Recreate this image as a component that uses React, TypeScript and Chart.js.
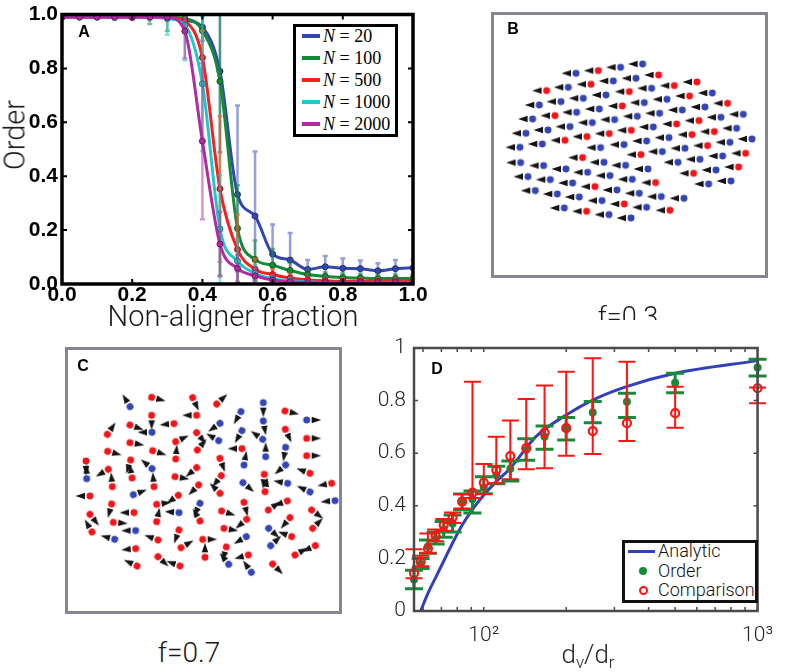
import React, { useEffect, useRef } from 'react';
import { Chart, registerables } from 'chart.js';
Chart.register(...registerables);

// ================= Panel A : order vs non-aligner fraction =================
const fracA = [0, 0.05, 0.1, 0.15, 0.2, 0.25, 0.3, 0.35, 0.4, 0.45, 0.5, 0.55, 0.6, 0.65, 0.7, 0.75, 0.8, 0.85, 0.9, 0.95, 1.0];
const orderN20 = [0.995, 0.995, 0.995, 0.995, 0.995, 0.995, 0.99, 0.978, 0.953, 0.789, 0.332, 0.252, 0.111, 0.089, 0.054, 0.064, 0.058, 0.057, 0.049, 0.057, 0.06];
const errN20 = [0.005, 0.005, 0.005, 0.005, 0.005, 0.01, 0.01, 0.02, 0.05, 0.3, 0.33, 0.24, 0.11, 0.1, 0.035, 0.04, 0.037, 0.03, 0.028, 0.032, 0.03];
const orderN100 = [0.995, 0.995, 0.995, 0.995, 0.995, 0.995, 0.99, 0.985, 0.94, 0.752, 0.206, 0.091, 0.07, 0.05, 0.035, 0.028, 0.024, 0.022, 0.02, 0.02, 0.02];
const errN100 = [0.005, 0.005, 0.005, 0.005, 0.005, 0.03, 0.05, 0.02, 0.1, 0.72, 0.16, 0.07, 0.06, 0.03, 0.02, 0.015, 0.015, 0.015, 0.015, 0.015, 0.015];
const orderN500 = [0.995, 0.995, 0.995, 0.995, 0.995, 0.995, 0.99, 0.975, 0.84, 0.353, 0.128, 0.055, 0.035, 0.022, 0.015, 0.012, 0.01, 0.01, 0.01, 0.01, 0.01];
const errN500 = [0.005, 0.005, 0.005, 0.005, 0.005, 0.005, 0.01, 0.03, 0.1, 0.27, 0.13, 0.04, 0.02, 0.015, 0.01, 0.01, 0.01, 0.01, 0.01, 0.01, 0.01];
const orderN1000 = [0.99, 0.99, 0.99, 0.99, 0.99, 0.99, 0.985, 0.96, 0.743, 0.204, 0.085, 0.04, 0.02, 0.012, 0.008, 0.005, 0.005, 0.005, 0.005, 0.005, 0.005];
const errN1000 = [0.005, 0.005, 0.005, 0.01, 0.005, 0.01, 0.06, 0.13, 0.25, 0.2, 0.08, 0.03, 0.01, 0.01, 0.005, 0.005, 0.005, 0.005, 0.005, 0.005, 0.005];
const orderN2000 = [0.99, 0.99, 0.99, 0.99, 0.99, 0.99, 0.99, 0.938, 0.53, 0.148, 0.058, 0.03, 0.015, 0.008, 0.005, 0.005, 0.005, 0.005, 0.005, 0.005, 0.005];
const errN2000 = [0.005, 0.005, 0.005, 0.005, 0.01, 0.005, 0.01, 0.1, 0.29, 0.12, 0.05, 0.03, 0.01, 0.005, 0.005, 0.005, 0.005, 0.005, 0.005, 0.005, 0.005];
const legendA = ['20', '100', '500', '1000', '2000'];
const colorsA = ['#3447ae', '#178a3a', '#fa1e1e', '#20c8c8', '#b02aa0'];
const edgesA = ['#1f2d78', '#0c5424', '#a01010', '#128080', '#6e1666'];
const errColorsA = ['rgba(60,80,190,0.55)', 'rgba(23,138,58,0.55)', 'rgba(250,95,40,0.6)', 'rgba(32,200,200,0.55)', 'rgba(176,42,160,0.5)'];
const ticksA = [0, 0.2, 0.4, 0.6, 0.8, 1.0];

// ================= Panel B : snapshot f = 0.3 (agent positions) =================
const bX = [318, 385, 452, 518, 498, 566, 230, 295, 363, 430, 478, 545, 613, 681, 208, 273, 340, 408, 457, 523, 591, 659, 727, 705, 773, 188, 255, 320, 388, 434, 502, 569, 637, 687, 753, 820, 168, 234, 300, 367, 484, 550, 620, 666, 733, 800, 150, 217, 285, 351, 418, 392, 462, 530, 597, 645, 713, 780, 846, 338, 513, 577, 690, 758, 827, 152, 221, 288, 353, 402, 467, 534, 624, 420, 487, 557, 671, 738, 806, 174, 241, 308, 375, 441, 508, 574, 642, 716, 783, 196, 262, 328, 396, 463, 530, 600, 283, 350, 417, 483];
const bY = [220, 212, 202, 192, 235, 225, 272, 262, 253, 243, 275, 265, 257, 246, 315, 305, 295, 285, 318, 308, 298, 288, 279, 321, 310, 357, 347, 337, 327, 359, 349, 340, 330, 362, 352, 343, 400, 390, 380, 368, 391, 381, 372, 404, 395, 385, 442, 432, 421, 410, 401, 443, 434, 423, 413, 445, 437, 427, 417, 473, 464, 455, 478, 468, 460, 488, 497, 507, 517, 487, 496, 507, 487, 527, 538, 548, 520, 510, 501, 530, 539, 549, 560, 570, 580, 590, 595, 552, 543, 572, 582, 591, 602, 612, 622, 631, 624, 634, 644, 654];
// b = aligner (blue), r = non-aligner (red)
const bKind = 'brbbbrrbrbrbrrbbbbrbbrbbrbrbbbbbbrbbbbbbrbrrrbbbrrrbbbbbrbbrrbbbrbbbbbbbbbbrrbrbbbrbbbbbbbbbbrbrbrbb'.split('');
const bHeading = 180;

// ================= Panel C : snapshot f = 0.7 =================
const cX = [390, 455, 578, 650, 790, 855, 920, 723, 455, 590, 790, 322, 390, 456, 522, 660, 656, 590, 527, 726, 788, 856, 920, 323, 390, 458, 527, 592, 660, 726, 797, 857, 920, 258, 392, 456, 325, 590, 664, 732, 857, 930, 260, 337, 396, 462, 525, 596, 729, 793, 795, 863, 930, 995, 270, 400, 535, 660, 862, 1005, 335, 470, 600, 732, 805, 935, 270, 402, 537, 665, 340, 470, 600, 740, 870, 276, 407, 537, 672, 806, 938, 344, 474, 608, 739, 875, 407, 543, 615, 679, 812, 885, 946, 745, 474, 411, 540, 686, 754, 818];
const cY = [290, 262, 263, 282, 278, 303, 330, 305, 316, 316, 333, 373, 345, 367, 341, 340, 392, 368, 395, 362, 388, 358, 385, 424, 398, 422, 447, 420, 445, 416, 440, 412, 437, 453, 450, 476, 478, 473, 497, 465, 465, 490, 506, 530, 504, 530, 500, 525, 518, 493, 545, 520, 546, 520, 558, 554, 556, 550, 573, 572, 582, 583, 580, 577, 600, 600, 613, 608, 608, 603, 637, 635, 633, 628, 623, 666, 662, 660, 655, 655, 655, 688, 690, 688, 680, 680, 716, 713, 742, 711, 707, 735, 707, 735, 740, 768, 768, 763, 787, 762];
const cHeading = [-121, 15, 65, -43, 90, 13, 0, 120, 90, 180, 80, -55, 20, 180, 175, 145, -150, 50, -25, 120, -145, 65, 0, 15, 10, 18, -85, -50, 70, 180, -90, 100, 0, 90, 108, -140, 150, 140, 128, -80, 140, -160, -90, -95, -100, -95, 10, 135, 40, 95, -80, 190, -155, 170, 180, -20, 145, -135, 160, 175, 105, -8, 115, 75, -35, 37, 52, 180, 185, 18, 5, -78, -120, 140, 130, -120, 180, 110, 10, 42, -45, -165, -160, 0, 150, -160, 175, -30, -90, 105, -43, -30, 155, 165, 43, -155, -160, -128, -125, 45];
const cKind = 'brrrbrbbrrbrrbrbbrrbbrrrrrrrrrbbrrrbrrrbbrbrrrrrbrrbbrrbrrrbrrbrrrrrbrrrrrrrbrrbrbrrbrrrrrbrrrrrrbbr'.split('');

// ================= Panel D : order vs dv/dr =================
const ratioD = [55.6, 58.8, 62.5, 66.7, 71.4, 76.9, 83.3, 90.9, 100, 111.1, 125, 142.9, 166.7, 200, 250, 333.3, 500, 1000];
const orderD = [0.12, 0.18, 0.245, 0.275, 0.31, 0.333, 0.415, 0.425, 0.47, 0.516, 0.541, 0.613, 0.663, 0.698, 0.755, 0.796, 0.868, 0.926];
const orderLoD = [0.085, 0.162, 0.22, 0.255, 0.28, 0.3, 0.385, 0.373, 0.446, 0.484, 0.494, 0.573, 0.615, 0.65, 0.716, 0.736, 0.83, 0.894];
const orderHiD = [0.155, 0.2, 0.27, 0.3, 0.34, 0.365, 0.445, 0.456, 0.51, 0.55, 0.57, 0.655, 0.703, 0.736, 0.797, 0.828, 0.904, 0.957];
const compD = [0.144, 0.188, 0.237, 0.285, 0.327, 0.356, 0.416, 0.45, 0.488, 0.536, 0.589, 0.619, 0.678, 0.695, 0.684, 0.714, 0.752, 0.847];
const compLoD = [0.125, 0.17, 0.22, 0.265, 0.305, 0.335, 0.39, 0.43, 0.445, 0.486, 0.501, 0.539, 0.543, 0.59, 0.597, 0.646, 0.697, 0.79];
const compHiD = [0.235, 0.21, 0.295, 0.31, 0.35, 0.375, 0.445, 0.872, 0.559, 0.663, 0.724, 0.806, 0.857, 0.91, 0.961, 0.948, 0.853, 0.85];
const analyticX = [58.8, 62.5, 66.9, 71.7, 77.9, 83.4, 90.6, 100, 111, 125, 155, 200, 250, 332, 500, 1000];
const analyticY = [0.0, 0.067, 0.13, 0.194, 0.27, 0.327, 0.384, 0.441, 0.492, 0.543, 0.663, 0.745, 0.802, 0.853, 0.904, 0.952];
const logTicksD = [60, 70, 80, 90, 100, 200, 300, 400, 500, 600, 700, 800, 900, 1000];
const linTicksD = [0, 0.2, 0.4, 0.6, 0.8, 1];

const BLUE_D = '#3341b8';
const GREEN_D = '#178a3a';
const RED_D = '#ff1414';
const DOT_BLUE = '#3346b4';
const DOT_RED = '#f2161a';
const LIGHT = "Roboto, 'Liberation Sans', Arial, sans-serif";
const SANS = "'Liberation Sans', Arial, sans-serif";

// ---------- plugins ----------
const errorBars = {
  id: 'errorBars',
  beforeDatasetDraw(chart: any, args: any) {
    const ds = chart.data.datasets[args.index];
    if (!ds.errLow) return;
    const { ctx, chartArea: a } = chart;
    const xs = chart.scales.x;
    const ys = chart.scales.y;
    ctx.save();
    if (ds.errClip) {
      ctx.beginPath();
      ctx.rect(a.left, a.top, a.right - a.left, a.bottom - a.top);
      ctx.clip();
    }
    ctx.strokeStyle = ds.errColor;
    ctx.lineWidth = ds.errWidth;
    ds.data.forEach((p: any, i: number) => {
      const x = xs.getPixelForValue(p.x);
      const y1 = ys.getPixelForValue(ds.errLow[i]);
      const y2 = ys.getPixelForValue(ds.errHigh[i]);
      ctx.beginPath();
      ctx.moveTo(x, y1);
      ctx.lineTo(x, y2);
      ctx.moveTo(x - ds.capHalf, y1);
      ctx.lineTo(x + ds.capHalf, y1);
      ctx.moveTo(x - ds.capHalf, y2);
      ctx.lineTo(x + ds.capHalf, y2);
      ctx.stroke();
    });
    ctx.restore();
  },
};

const frameBox = {
  id: 'frameBox',
  afterDatasetsDraw(chart: any, _args: any, opts: any) {
    if (!opts || !opts.color) return;
    const { ctx, chartArea: a } = chart;
    const inset = opts.inset || 0;
    ctx.save();
    if (opts.tickLen) {
      const L = opts.tickLen;
      ctx.strokeStyle = opts.color;
      ctx.lineWidth = opts.tickWidth;
      const xs = chart.scales.x;
      const ys = chart.scales.y;
      ctx.beginPath();
      xs.ticks.forEach((t: any) => {
        const px = xs.getPixelForValue(t.value);
        ctx.moveTo(px, a.bottom);
        ctx.lineTo(px, a.bottom - L);
        ctx.moveTo(px, a.top);
        ctx.lineTo(px, a.top + L);
      });
      ys.ticks.forEach((t: any) => {
        const py = ys.getPixelForValue(t.value);
        ctx.moveTo(a.left, py);
        ctx.lineTo(a.left + L, py);
        ctx.moveTo(a.right, py);
        ctx.lineTo(a.right - L, py);
      });
      ctx.stroke();
    }
    ctx.strokeStyle = opts.color;
    ctx.lineWidth = opts.width;
    ctx.strokeRect(a.left + inset, a.top + inset, a.right - a.left - 2 * inset, a.bottom - a.top - 2 * inset);
    ctx.restore();
  },
};

function makeGlyph(dot: string) {
  const c = document.createElement('canvas');
  c.width = 30;
  c.height = 12;
  const g = c.getContext('2d') as CanvasRenderingContext2D;
  g.fillStyle = '#141414';
  g.beginPath();
  g.moveTo(20, 2.8);
  g.lineTo(29.5, 6);
  g.lineTo(20, 9.2);
  g.closePath();
  g.fill();
  g.fillStyle = dot;
  g.beginPath();
  g.arc(15, 6, 3.5, 0, Math.PI * 2);
  g.fill();
  return c;
}

function Label({ x, y, size, weight = 300, family = LIGHT, color = '#1a1a1a', rotate = 0, children }: any) {
  return (
    <div
      style={{
        position: 'absolute', left: x, top: y,
        transform: `translate(-50%, -50%) rotate(${rotate}deg)`,
        fontSize: size, fontWeight: weight, fontFamily: family, color,
        lineHeight: 1, whiteSpace: 'nowrap',
      }}
    >
      {children}
    </div>
  );
}

export default function App() {
  const aRef = useRef<HTMLCanvasElement>(null);
  const bRef = useRef<HTMLCanvasElement>(null);
  const cRef = useRef<HTMLCanvasElement>(null);
  const dRef = useRef<HTMLCanvasElement>(null);

  useEffect(() => {
    const charts: Chart[] = [];
    const blueGlyph = makeGlyph(DOT_BLUE);
    const redGlyph = makeGlyph(DOT_RED);

    // ---- A ----
    const seriesA = [orderN20, orderN100, orderN500, orderN1000, orderN2000];
    const errsA = [errN20, errN100, errN500, errN1000, errN2000];
    const dsA = seriesA.map((vals, s) => ({
      label: 'N = ' + legendA[s],
      data: fracA.map((x, i) => ({ x, y: vals[i] })),
      borderColor: colorsA[s],
      backgroundColor: colorsA[s],
      borderWidth: 3,
      pointRadius: 3,
      pointBorderWidth: 1,
      pointBorderColor: edgesA[s],
      pointBackgroundColor: colorsA[s],
      showLine: true,
      cubicInterpolationMode: 'monotone',
      order: 5 - s,
      errLow: vals.map((v, i) => v - errsA[s][i]),
      errHigh: vals.map((v, i) => v + errsA[s][i]),
      errColor: errColorsA[s],
      errWidth: 2.5,
      capHalf: 2.5,
      errClip: true,
    }));
    const tickFontA = { family: SANS, size: 21, weight: 'bold', lineHeight: 1 };
    charts.push(new Chart(aRef.current as HTMLCanvasElement, {
      type: 'scatter',
      data: { datasets: dsA as any },
      plugins: [errorBars, frameBox],
      options: {
        responsive: false, animation: false, events: [],
        layout: { padding: { top: 14, right: 20, left: 0, bottom: 0 }, autoPadding: false },
        plugins: { legend: { display: false }, tooltip: { enabled: false }, frameBox: { color: '#000', width: 3.5, tickLen: 5, tickWidth: 2 } } as any,
        scales: {
          x: {
            type: 'linear', min: 0, max: 1,
            grid: { display: false, drawTicks: false }, border: { display: false },
            afterBuildTicks: (s: any) => { s.ticks = ticksA.map((v) => ({ value: v })); },
            afterFit: (s: any) => { s.height = 26; },
            ticks: { color: '#000', padding: 1, maxRotation: 0, autoSkip: false, font: tickFontA as any, callback: (v: any) => Number(v).toFixed(1) },
          },
          y: {
            type: 'linear', min: 0, max: 1,
            grid: { display: false, drawTicks: false }, border: { display: false },
            afterBuildTicks: (s: any) => { s.ticks = ticksA.map((v) => ({ value: v })); },
            afterFit: (s: any) => { s.width = 62; },
            ticks: { color: '#000', padding: 4, autoSkip: false, font: tickFontA as any, callback: (v: any) => Number(v).toFixed(1) },
          },
        },
      },
    }));

    // ---- B ----
    charts.push(new Chart(bRef.current as HTMLCanvasElement, {
      type: 'scatter',
      data: {
        datasets: [{
          label: 'agents f=0.3',
          data: bX.map((x, i) => ({ x, y: bY[i] })),
          pointStyle: bKind.map((k) => (k === 'r' ? redGlyph : blueGlyph)) as any,
          pointRotation: bHeading,
          pointRadius: 5,
          clip: false,
        } as any],
      },
      plugins: [frameBox],
      options: {
        responsive: false, animation: false, events: [],
        layout: { padding: 0, autoPadding: false },
        plugins: { legend: { display: false }, tooltip: { enabled: false }, frameBox: { color: '#86868e', width: 3, inset: 1.5 } } as any,
        scales: {
          x: { type: 'linear', display: false, min: 63, max: 894 },
          y: { type: 'linear', display: false, min: 36, max: 834, reverse: true },
        },
      },
    }));

    // ---- C ----
    charts.push(new Chart(cRef.current as HTMLCanvasElement, {
      type: 'scatter',
      data: {
        datasets: [{
          label: 'agents f=0.7',
          data: cX.map((x, i) => ({ x, y: cY[i] })),
          pointStyle: cKind.map((k) => (k === 'r' ? redGlyph : blueGlyph)) as any,
          pointRotation: cHeading,
          pointRadius: 5,
          clip: false,
        } as any],
      },
      plugins: [frameBox],
      options: {
        responsive: false, animation: false, events: [],
        layout: { padding: 0, autoPadding: false },
        plugins: { legend: { display: false }, tooltip: { enabled: false }, frameBox: { color: '#86868e', width: 3, inset: 1.5 } } as any,
        scales: {
          x: { type: 'linear', display: false, min: 195, max: 1026 },
          y: { type: 'linear', display: false, min: 111, max: 912, reverse: true },
        },
      },
    }));

    // ---- D ----
    const tickFontD = { family: LIGHT, size: 21, weight: 300, lineHeight: 1 };
    charts.push(new Chart(dRef.current as HTMLCanvasElement, {
      type: 'scatter',
      data: {
        datasets: [
          {
            label: 'Comparison',
            data: ratioD.map((x, i) => ({ x, y: compD[i] })),
            pointStyle: 'circle', pointRadius: 4, pointBorderWidth: 2.2,
            pointBorderColor: RED_D, pointBackgroundColor: 'rgba(0,0,0,0)',
            borderColor: RED_D, showLine: false, clip: false, order: 1,
            errLow: compLoD, errHigh: compHiD, errColor: RED_D, errWidth: 2, capHalf: 8.5,
          },
          {
            label: 'Order',
            data: ratioD.map((x, i) => ({ x, y: orderD[i] })),
            pointStyle: 'circle', pointRadius: 4, pointBorderWidth: 0,
            pointBackgroundColor: GREEN_D, borderColor: GREEN_D, showLine: false, clip: false, order: 2,
            errLow: orderLoD, errHigh: orderHiD, errColor: GREEN_D, errWidth: 3, capHalf: 9,
          },
          {
            label: 'Analytic',
            data: analyticX.map((x, i) => ({ x, y: analyticY[i] })),
            borderColor: BLUE_D, borderWidth: 3, pointRadius: 0, showLine: true,
            cubicInterpolationMode: 'monotone', order: 3,
          },
        ] as any,
      },
      plugins: [errorBars, frameBox],
      options: {
        responsive: false, animation: false, events: [],
        layout: { padding: { top: 28, right: 20, left: 0, bottom: 0 }, autoPadding: false },
        plugins: { legend: { display: false }, tooltip: { enabled: false }, frameBox: { color: '#4a4a4a', width: 2.5, tickLen: 4, tickWidth: 1.5 } } as any,
        scales: {
          x: {
            type: 'logarithmic', min: 55.6, max: 1000,
            grid: { display: false, drawTicks: false }, border: { display: false },
            afterBuildTicks: (s: any) => { s.ticks = logTicksD.map((v) => ({ value: v })); },
            afterFit: (s: any) => { s.height = 61; },
            ticks: {
              color: '#262626', padding: 14, maxRotation: 0, autoSkip: false, font: tickFontD as any,
              callback: (v: any) => (v === 100 ? '10²' : v === 1000 ? '10³' : ''),
            },
          },
          y: {
            type: 'linear', min: 0, max: 1,
            grid: { display: false, drawTicks: false }, border: { display: false },
            afterBuildTicks: (s: any) => { s.ticks = linTicksD.map((v) => ({ value: v })); },
            afterFit: (s: any) => { s.width = 74; },
            ticks: {
              color: '#262626', padding: 8, autoSkip: false, font: tickFontD as any,
              callback: (v: any) => { const n = Number(v); return n === 0 ? '0' : n === 1 ? '1' : n.toFixed(1); },
            },
          },
        },
      },
    }));

    return () => charts.forEach((c) => c.destroy());
  }, []);

  const legendRowTopA = 36;
  const legendStepA = 22;

  return (
    <div style={{ position: 'absolute', left: 0, top: 0, width: 787, height: 672, background: '#fff', overflow: 'hidden' }}>
      {/* Panel A */}
      <canvas ref={aRef} width={433} height={310} style={{ position: 'absolute', left: 0, top: 0, width: 433, height: 310 }} />
      <Label x={15} y={135} size={29} rotate={-90}>Order</Label>
      <Label x={233} y={316} size={29}>Non-aligner fraction</Label>
      <Label x={84} y={32} size={16} weight={700} family={SANS} color="#000">A</Label>
      <div style={{ position: 'absolute', left: 293, top: 24, width: 105, height: 113, boxSizing: 'border-box', border: '3px solid #000', background: '#fff' }} />
      {legendA.map((n, i) => (
        <React.Fragment key={n}>
          <div style={{ position: 'absolute', left: 302, top: legendRowTopA + i * legendStepA - 1.75, width: 18, height: 3.5, background: colorsA[i] }} />
          <div style={{ position: 'absolute', left: 323, top: legendRowTopA + i * legendStepA, transform: 'translateY(-50%)', fontFamily: "'Liberation Serif', 'Times New Roman', serif", fontSize: 18, lineHeight: 1, color: '#000', whiteSpace: 'nowrap' }}>
            <i>N</i> = {n}
          </div>
        </React.Fragment>
      ))}

      {/* Panel B */}
      <canvas ref={bRef} width={277} height={266} style={{ position: 'absolute', left: 491, top: 12, width: 277, height: 266 }} />
      <Label x={513} y={29} size={16} weight={700} family={SANS} color="#000">B</Label>
      <div style={{ position: 'absolute', left: 0, top: 0, width: 787, height: 320, overflow: 'hidden' }}>
        <Label x={628} y={317} size={27}>f=0.3</Label>
      </div>

      {/* Panel C */}
      <canvas ref={cRef} width={277} height={267} style={{ position: 'absolute', left: 65, top: 347, width: 277, height: 267 }} />
      <Label x={83} y={366} size={16} weight={700} family={SANS} color="#000">C</Label>
      <Label x={189} y={653} size={28}>f=0.7</Label>

      {/* Panel D */}
      <canvas ref={dRef} width={447} height={352} style={{ position: 'absolute', left: 340, top: 320, width: 447, height: 352 }} />
      <Label x={437} y={369} size={16} weight={700} family={SANS} color="#000">D</Label>
      <div style={{ position: 'absolute', left: 622, top: 540, width: 136, height: 63, boxSizing: 'border-box', border: '3px solid #111', background: '#fff' }} />
      <div style={{ position: 'absolute', left: 628, top: 549.5, width: 27, height: 3, background: BLUE_D }} />
      <div style={{ position: 'absolute', left: 639, top: 567, width: 8, height: 8, borderRadius: '50%', background: GREEN_D }} />
      <div style={{ position: 'absolute', left: 638.5, top: 585.5, width: 9, height: 9, boxSizing: 'border-box', borderRadius: '50%', border: `2px solid ${RED_D}` }} />
      {['Analytic', 'Order', 'Comparison'].map((t, i) => (
        <div key={t} style={{ position: 'absolute', left: 658, top: [551, 571, 590][i], transform: 'translateY(-50%)', fontFamily: LIGHT, fontWeight: 300, fontSize: 18, lineHeight: 1, color: '#111', whiteSpace: 'nowrap' }}>{t}</div>
      ))}
      <div style={{ position: 'absolute', left: 588, top: 641, height: 26, lineHeight: '26px', transform: 'translateX(-50%)', fontFamily: LIGHT, fontWeight: 300, fontSize: 26, color: '#262626', whiteSpace: 'nowrap' }}>
        d<span style={{ fontSize: 17, position: 'relative', top: '0.3em' }}>v</span>/d<span style={{ fontSize: 17, position: 'relative', top: '0.3em' }}>r</span>
      </div>
    </div>
  );
}
